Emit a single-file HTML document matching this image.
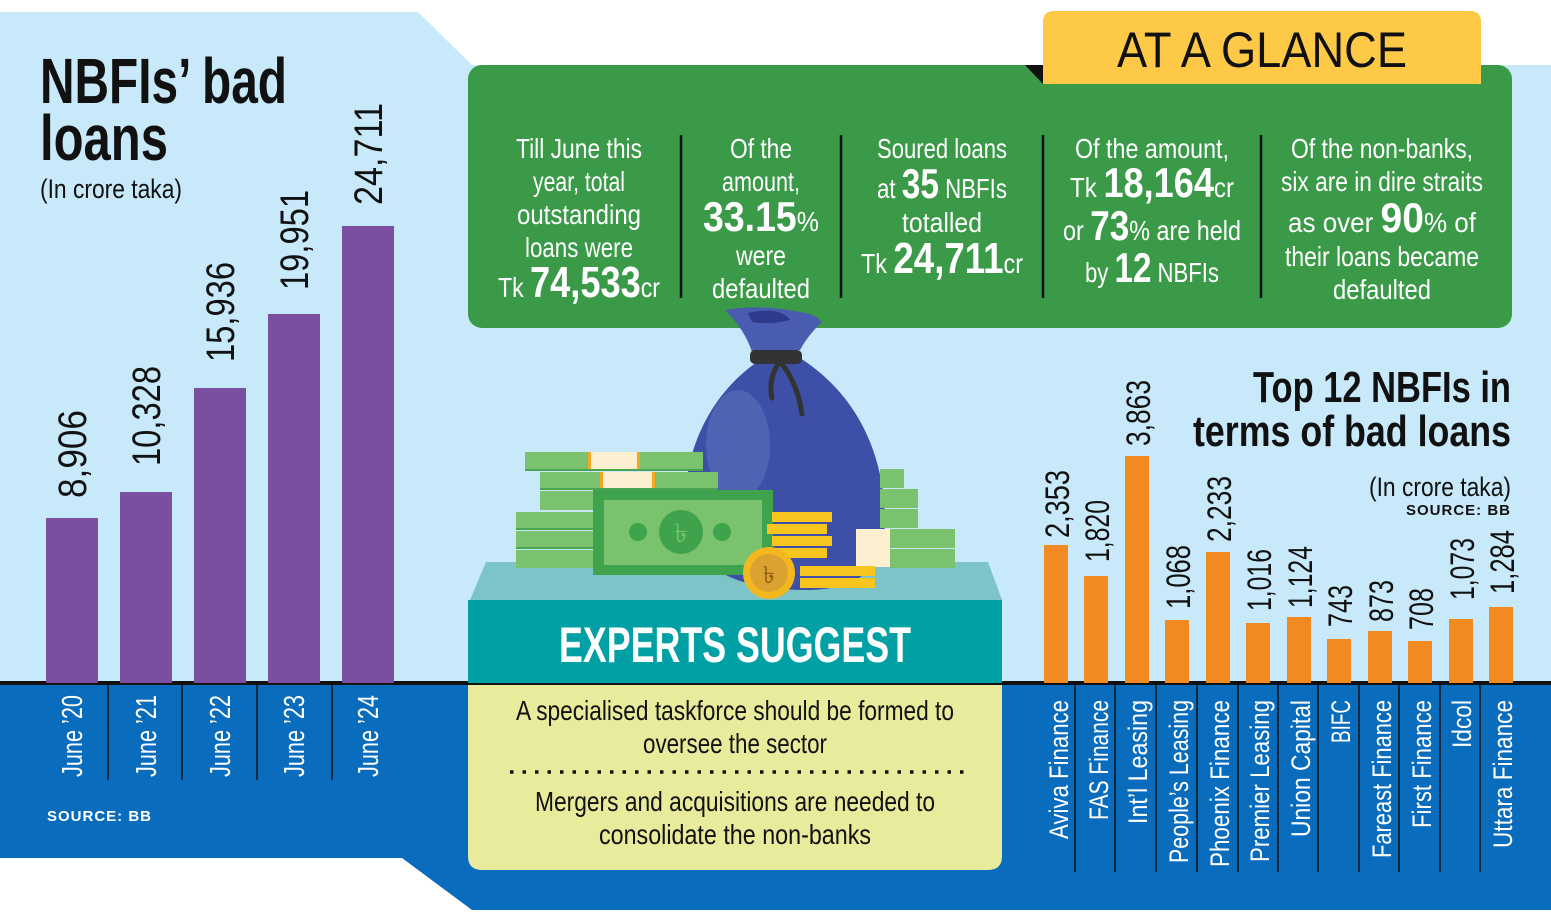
<!DOCTYPE html>
<html><head><meta charset="utf-8"><style>
html,body{margin:0;padding:0;background:#fff}
svg{display:block}
text{font-family:"Liberation Sans",sans-serif}
</style></head><body>
<svg width="1551" height="913" viewBox="0 0 1551 913" xmlns="http://www.w3.org/2000/svg">
<polygon points="0,12 418,12 472,65 1551,65 1551,683 0,683" fill="#c8e9f9"/>
<polygon points="0,683 1551,683 1551,910 472,910 402,858 0,858" fill="#0a6cbd"/>
<rect x="0" y="681" width="1551" height="4" fill="#111"/>

<text x="40" y="103" font-size="64" font-weight="bold" textLength="247" lengthAdjust="spacingAndGlyphs" fill="#111">NBFIs’ bad</text>
<text x="40" y="160" font-size="64" font-weight="bold" textLength="128" lengthAdjust="spacingAndGlyphs" fill="#111">loans</text>
<text x="40" y="198" font-size="27" textLength="142" lengthAdjust="spacingAndGlyphs" fill="#111">(In crore taka)</text>

<g fill="#7b4fa0">
<rect x="46" y="518" width="52" height="165"/>
<rect x="120" y="492" width="52" height="191"/>
<rect x="194" y="388" width="52" height="295"/>
<rect x="268" y="314" width="52" height="369"/>
<rect x="342" y="226" width="52" height="457"/>
</g>
<g font-size="40" fill="#111">
<text transform="translate(86,498) rotate(-90)" textLength="88" lengthAdjust="spacingAndGlyphs">8,906</text>
<text transform="translate(160,466) rotate(-90)" textLength="100" lengthAdjust="spacingAndGlyphs">10,328</text>
<text transform="translate(234,362) rotate(-90)" textLength="100" lengthAdjust="spacingAndGlyphs">15,936</text>
<text transform="translate(308,290) rotate(-90)" textLength="100" lengthAdjust="spacingAndGlyphs">19,951</text>
<text transform="translate(382,205) rotate(-90)" textLength="102" lengthAdjust="spacingAndGlyphs">24,711</text>
</g>
<g stroke="#111" stroke-width="1.5">
<line x1="108" y1="683" x2="108" y2="780"/><line x1="182" y1="683" x2="182" y2="780"/>
<line x1="257" y1="683" x2="257" y2="780"/><line x1="332" y1="683" x2="332" y2="780"/>
</g>
<g font-size="29" fill="#fff">
<text transform="translate(82,777) rotate(-90)" textLength="82" lengthAdjust="spacingAndGlyphs">June ’20</text>
<text transform="translate(156,777) rotate(-90)" textLength="82" lengthAdjust="spacingAndGlyphs">June ’21</text>
<text transform="translate(230,777) rotate(-90)" textLength="82" lengthAdjust="spacingAndGlyphs">June ’22</text>
<text transform="translate(304,777) rotate(-90)" textLength="82" lengthAdjust="spacingAndGlyphs">June ’23</text>
<text transform="translate(378,777) rotate(-90)" textLength="82" lengthAdjust="spacingAndGlyphs">June ’24</text>
</g>
<text x="47" y="821" font-size="15" font-weight="bold" fill="#fff" letter-spacing="1">SOURCE: BB</text>

<rect x="468" y="65" width="1044" height="263" rx="14" fill="#3a9a48"/>
<polygon points="1025,65 1043,65 1043,84" fill="#111"/>
<path d="M1043,84 V22 Q1043,11 1054,11 H1470 Q1481,11 1481,22 V84 Z" fill="#fdc947"/>
<text x="1262" y="67" font-size="50" text-anchor="middle" textLength="290" lengthAdjust="spacingAndGlyphs" fill="#111">AT A GLANCE</text>
<g stroke="#111" stroke-width="2.5">
<line x1="681" y1="135" x2="681" y2="298"/><line x1="841" y1="135" x2="841" y2="298"/>
<line x1="1043" y1="135" x2="1043" y2="298"/><line x1="1261" y1="135" x2="1261" y2="298"/>
</g>
<g fill="#fff" font-size="28" text-anchor="middle">
<text x="579" y="158" textLength="126" lengthAdjust="spacingAndGlyphs">Till June this</text>
<text x="579" y="191" textLength="92" lengthAdjust="spacingAndGlyphs">year, total</text>
<text x="579" y="224" textLength="124" lengthAdjust="spacingAndGlyphs">outstanding</text>
<text x="579" y="257" textLength="108" lengthAdjust="spacingAndGlyphs">loans were</text>
<text x="579" y="297" textLength="162" lengthAdjust="spacingAndGlyphs">Tk <tspan font-size="44" font-weight="bold">74,533</tspan>cr</text>

<text x="761" y="158" textLength="62" lengthAdjust="spacingAndGlyphs">Of the</text>
<text x="761" y="191" textLength="78" lengthAdjust="spacingAndGlyphs">amount,</text>
<text x="761" y="231" textLength="116" lengthAdjust="spacingAndGlyphs"><tspan font-size="42" font-weight="bold">33.15</tspan>%</text>
<text x="761" y="265" textLength="50" lengthAdjust="spacingAndGlyphs">were</text>
<text x="761" y="298" textLength="98" lengthAdjust="spacingAndGlyphs">defaulted</text>

<text x="942" y="158" textLength="130" lengthAdjust="spacingAndGlyphs">Soured loans</text>
<text x="942" y="198" textLength="130" lengthAdjust="spacingAndGlyphs">at <tspan font-size="42" font-weight="bold">35</tspan> NBFIs</text>
<text x="942" y="232" textLength="80" lengthAdjust="spacingAndGlyphs">totalled</text>
<text x="942" y="273" textLength="162" lengthAdjust="spacingAndGlyphs">Tk <tspan font-size="44" font-weight="bold">24,711</tspan>cr</text>

<text x="1152" y="158" textLength="154" lengthAdjust="spacingAndGlyphs">Of the amount,</text>
<text x="1152" y="197" textLength="164" lengthAdjust="spacingAndGlyphs">Tk <tspan font-size="42" font-weight="bold">18,164</tspan>cr</text>
<text x="1152" y="240" textLength="178" lengthAdjust="spacingAndGlyphs">or <tspan font-size="42" font-weight="bold">73</tspan>% are held</text>
<text x="1152" y="282" textLength="134" lengthAdjust="spacingAndGlyphs">by <tspan font-size="42" font-weight="bold">12</tspan> NBFIs</text>

<text x="1382" y="158" textLength="182" lengthAdjust="spacingAndGlyphs">Of the non-banks,</text>
<text x="1382" y="191" textLength="202" lengthAdjust="spacingAndGlyphs">six are in dire straits</text>
<text x="1382" y="232" textLength="188" lengthAdjust="spacingAndGlyphs">as over <tspan font-size="42" font-weight="bold">90</tspan>% of</text>
<text x="1382" y="266" textLength="194" lengthAdjust="spacingAndGlyphs">their loans became</text>
<text x="1382" y="299" textLength="98" lengthAdjust="spacingAndGlyphs">defaulted</text>
</g>

<polygon points="486,562 988,562 1002,600 470,600" fill="#7cc4c8"/>
<rect x="468" y="600" width="534" height="83" fill="#00a0a4"/>
<text x="735" y="662" font-size="50" font-weight="bold" fill="#fff" text-anchor="middle" textLength="352" lengthAdjust="spacingAndGlyphs">EXPERTS SUGGEST</text>
<path d="M468,685 H1002 V856 Q1002,870 988,870 H482 Q468,870 468,856 Z" fill="#e8eb9c"/>
<g font-size="28" fill="#111" text-anchor="middle">
<text x="735" y="720" textLength="438" lengthAdjust="spacingAndGlyphs">A specialised taskforce should be formed to</text>
<text x="735" y="753" textLength="184" lengthAdjust="spacingAndGlyphs">oversee the sector</text>
<text x="735" y="811" textLength="400" lengthAdjust="spacingAndGlyphs">Mergers and acquisitions are needed to</text>
<text x="735" y="844" textLength="272" lengthAdjust="spacingAndGlyphs">consolidate the non-banks</text>
</g>
<line x1="510" y1="772" x2="964" y2="772" stroke="#111" stroke-width="3.5" stroke-dasharray="3.5,9" />

<path d="M760,360 C700,400 680,470 686,520 C692,570 740,590 805,590 C870,590 890,560 884,500 C878,440 850,390 800,358 Z" fill="#3d4fa6"/>
<ellipse cx="738" cy="445" rx="32" ry="55" fill="#5566b5" opacity="0.8"/>
<path d="M725,310 Q760,304 800,312 Q815,314 822,322 Q808,335 800,350 L752,352 Q745,330 725,310 Z" fill="#4a5cb0"/>
<path d="M748,313 Q780,306 790,320 Q770,325 752,322 Z" fill="#2e3a8a"/>
<rect x="750" y="350" width="52" height="14" rx="5" fill="#333"/>
<path d="M778,364 Q768,380 772,398 M782,364 Q798,385 802,414" stroke="#333" stroke-width="5" fill="none" stroke-linecap="round"/>
<g fill="#7ac26e">
<rect x="525" y="452" width="178" height="19"/>
<rect x="540" y="472" width="178" height="18"/>
<rect x="540" y="491" width="60" height="19"/>
<rect x="516" y="512" width="80" height="18"/><rect x="516" y="531" width="80" height="18"/><rect x="516" y="550" width="80" height="18"/>
</g>
<rect x="590" y="452" width="48" height="19" fill="#fdf0d0"/><rect x="602" y="472" width="50" height="18" fill="#fdf0d0"/>
<rect x="588" y="452" width="3" height="19" fill="#f5a623"/><rect x="637" y="452" width="3" height="19" fill="#f5a623"/>
<rect x="600" y="472" width="3" height="18" fill="#f5a623"/><rect x="652" y="472" width="3" height="18" fill="#f5a623"/>
<g fill="#4aa550"><rect x="525" y="469" width="178" height="2"/><rect x="540" y="488" width="178" height="2"/><rect x="516" y="528" width="80" height="2"/><rect x="516" y="547" width="80" height="2"/></g>
<g fill="#7ac26e">
<rect x="880" y="469" width="24" height="19"/><rect x="880" y="489" width="38" height="19"/><rect x="880" y="509" width="38" height="19"/>
<rect x="890" y="529" width="65" height="19"/><rect x="890" y="549" width="65" height="19"/>
</g>
<rect x="856" y="529" width="34" height="38" fill="#fdf0d0"/>
<rect x="593" y="490" width="180" height="85" fill="#3fa34d"/>
<rect x="604" y="500" width="158" height="65" fill="#7ac26e"/>
<circle cx="681" cy="532" r="22" fill="#3fa34d"/>
<circle cx="638" cy="532" r="9" fill="#3fa34d"/><circle cx="722" cy="532" r="9" fill="#3fa34d"/>
<text x="681" y="542" font-size="26" fill="#7ac26e" text-anchor="middle" font-family="DejaVu Sans">৳</text>
<g fill="#f7c51e">
<rect x="772" y="512" width="60" height="10"/><rect x="767" y="524" width="60" height="10"/>
<rect x="772" y="536" width="60" height="10"/><rect x="772" y="548" width="55" height="10"/>
<rect x="800" y="566" width="75" height="10"/><rect x="800" y="578" width="75" height="10"/>
</g>
<circle cx="769" cy="573" r="26" fill="#f2b81d"/>
<circle cx="769" cy="573" r="19" fill="#dba232"/>
<text x="769" y="583" font-size="24" fill="#8a5a10" text-anchor="middle" font-family="DejaVu Sans">৳</text>

<text x="1511" y="402" font-size="44" font-weight="bold" fill="#111" text-anchor="end" textLength="258" lengthAdjust="spacingAndGlyphs">Top 12 NBFIs in</text>
<text x="1511" y="446" font-size="44" font-weight="bold" fill="#111" text-anchor="end" textLength="318" lengthAdjust="spacingAndGlyphs">terms of bad loans</text>
<text x="1511" y="496" font-size="27" fill="#111" text-anchor="end" textLength="142" lengthAdjust="spacingAndGlyphs">(In crore taka)</text>
<text x="1511" y="515" font-size="15" font-weight="bold" fill="#111" text-anchor="end" letter-spacing="1">SOURCE: BB</text>

<g fill="#f28a22">
<rect x="1044" y="545" width="24" height="138"/>
<rect x="1084" y="576" width="24" height="107"/>
<rect x="1125" y="456" width="24" height="227"/>
<rect x="1165" y="620" width="24" height="63"/>
<rect x="1206" y="552" width="24" height="131"/>
<rect x="1246" y="623" width="24" height="60"/>
<rect x="1287" y="617" width="24" height="66"/>
<rect x="1327" y="639" width="24" height="44"/>
<rect x="1368" y="631" width="24" height="52"/>
<rect x="1408" y="641" width="24" height="42"/>
<rect x="1449" y="619" width="24" height="64"/>
<rect x="1489" y="607" width="24" height="76"/>
</g>
<g font-size="34" fill="#111">
<text transform="translate(1069,538) rotate(-90)" textLength="68" lengthAdjust="spacingAndGlyphs">2,353</text>
<text transform="translate(1109,562) rotate(-90)" textLength="62" lengthAdjust="spacingAndGlyphs">1,820</text>
<text transform="translate(1150,446) rotate(-90)" textLength="66" lengthAdjust="spacingAndGlyphs">3,863</text>
<text transform="translate(1190,609) rotate(-90)" textLength="64" lengthAdjust="spacingAndGlyphs">1,068</text>
<text transform="translate(1231,542) rotate(-90)" textLength="66" lengthAdjust="spacingAndGlyphs">2,233</text>
<text transform="translate(1271,611) rotate(-90)" textLength="62" lengthAdjust="spacingAndGlyphs">1,016</text>
<text transform="translate(1312,608) rotate(-90)" textLength="62" lengthAdjust="spacingAndGlyphs">1,124</text>
<text transform="translate(1352,627) rotate(-90)" textLength="42" lengthAdjust="spacingAndGlyphs">743</text>
<text transform="translate(1393,622) rotate(-90)" textLength="42" lengthAdjust="spacingAndGlyphs">873</text>
<text transform="translate(1433,630) rotate(-90)" textLength="42" lengthAdjust="spacingAndGlyphs">708</text>
<text transform="translate(1474,600) rotate(-90)" textLength="62" lengthAdjust="spacingAndGlyphs">1,073</text>
<text transform="translate(1514,594) rotate(-90)" textLength="64" lengthAdjust="spacingAndGlyphs">1,284</text>
</g>
<g stroke="#111" stroke-width="1.5">
<line x1="1075" y1="683" x2="1075" y2="872"/><line x1="1115" y1="683" x2="1115" y2="872"/>
<line x1="1156" y1="683" x2="1156" y2="872"/><line x1="1197" y1="683" x2="1197" y2="872"/>
<line x1="1238" y1="683" x2="1238" y2="872"/><line x1="1278" y1="683" x2="1278" y2="872"/>
<line x1="1318" y1="683" x2="1318" y2="872"/><line x1="1359" y1="683" x2="1359" y2="872"/>
<line x1="1399" y1="683" x2="1399" y2="872"/><line x1="1440" y1="683" x2="1440" y2="872"/>
<line x1="1480" y1="683" x2="1480" y2="872"/>
</g>
<g font-size="27" fill="#fff">
<text transform="translate(1068,839) rotate(-90)" textLength="139" lengthAdjust="spacingAndGlyphs">Aviva Finance</text>
<text transform="translate(1108,820) rotate(-90)" textLength="120" lengthAdjust="spacingAndGlyphs">FAS Finance</text>
<text transform="translate(1147,824) rotate(-90)" textLength="124" lengthAdjust="spacingAndGlyphs">Int’l Leasing</text>
<text transform="translate(1188,863) rotate(-90)" textLength="163" lengthAdjust="spacingAndGlyphs">People’s Leasing</text>
<text transform="translate(1229,867) rotate(-90)" textLength="167" lengthAdjust="spacingAndGlyphs">Phoenix Finance</text>
<text transform="translate(1269,862) rotate(-90)" textLength="162" lengthAdjust="spacingAndGlyphs">Premier Leasing</text>
<text transform="translate(1310,837) rotate(-90)" textLength="137" lengthAdjust="spacingAndGlyphs">Union Capital</text>
<text transform="translate(1350,743) rotate(-90)" textLength="43" lengthAdjust="spacingAndGlyphs">BIFC</text>
<text transform="translate(1391,858) rotate(-90)" textLength="158" lengthAdjust="spacingAndGlyphs">Fareast Finance</text>
<text transform="translate(1431,828) rotate(-90)" textLength="128" lengthAdjust="spacingAndGlyphs">First Finance</text>
<text transform="translate(1471,748) rotate(-90)" textLength="48" lengthAdjust="spacingAndGlyphs">Idcol</text>
<text transform="translate(1512,848) rotate(-90)" textLength="148" lengthAdjust="spacingAndGlyphs">Uttara Finance</text>
</g>
</svg>
</body></html>
